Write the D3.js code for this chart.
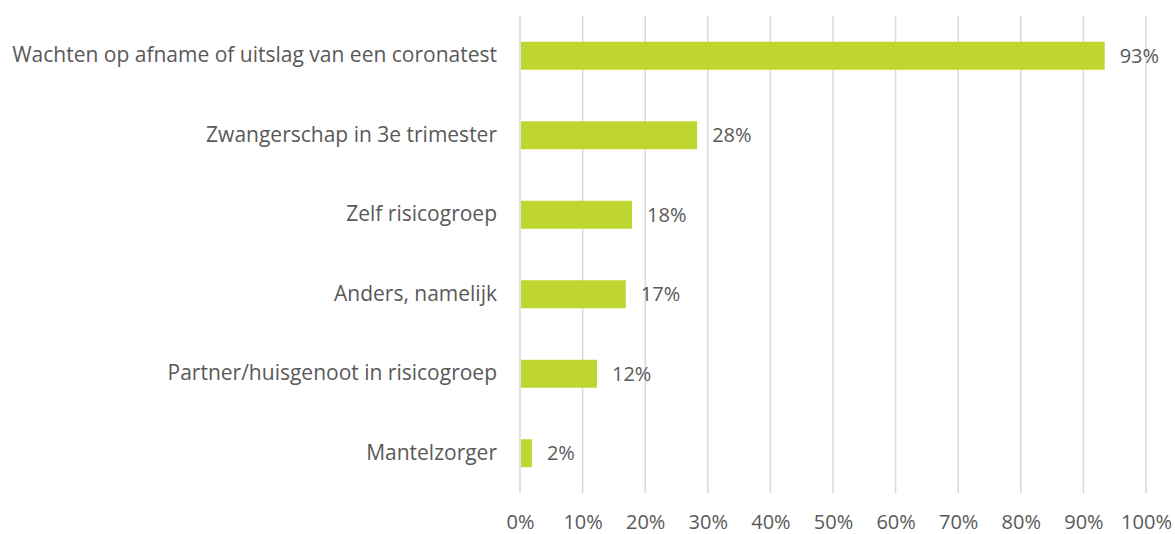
<!DOCTYPE html>
<html>
<head>
<meta charset="utf-8">
<script src="https://cdn.jsdelivr.net/npm/d3@7"></script>
<style>
  body { margin: 0; background: #fff; }
  text { font-family: "Open Sans", sans-serif; fill: #595959; }
</style>
</head>
<body>
<div id="chart"></div>
<script>
// categories, top to bottom
var categories = [
  "Wachten op afname of uitslag van een coronatest",
  "Zwangerschap in 3e trimester",
  "Zelf risicogroep",
  "Anders, namelijk",
  "Partner/huisgenoot in risicogroep",
  "Mantelzorger"
];
// percentages
var values = [93.4, 28.3, 17.9, 16.9, 12.3, 1.9];
var ticks = [0, 10, 20, 30, 40, 50, 60, 70, 80, 90, 100];

var W = 1175, H = 534;
var margin = {top: 16, right: 29, bottom: 41, left: 520};
var width = W - margin.left - margin.right,
    height = H - margin.top - margin.bottom;

var svg = d3.select("#chart").append("svg")
    .attr("width", W).attr("height", H)
  .append("g")
    .attr("transform", "translate(" + margin.left + "," + margin.top + ")");

var x = d3.scaleLinear().domain([0, 100]).range([0, width]);
var y = d3.scaleBand().domain(categories).range([0, height]).paddingInner(0.648).paddingOuter(0.324);

// vertical gridlines
svg.append("g").selectAll("line")
  .data(ticks).enter().append("line")
    .attr("x1", function (d) { return x(d); })
    .attr("x2", function (d) { return x(d); })
    .attr("y1", 0).attr("y2", height)
    .attr("stroke", "#d9d9d9")
    .attr("stroke-width", 1.5);

// x axis labels
var xAxis = svg.append("g")
    .attr("transform", "translate(0," + height + ")")
    .call(d3.axisBottom(x).tickValues(ticks).tickSize(0).tickPadding(22)
      .tickFormat(function (d) { return d + "%"; }));
xAxis.select(".domain").remove();
xAxis.selectAll("text").style("font-size", "20px").attr("fill", "#595959");

// y axis labels
var yAxis = svg.append("g")
    .call(d3.axisLeft(y).tickSize(0).tickPadding(23));
yAxis.select(".domain").remove();
yAxis.selectAll("text").style("font-size", "21px").attr("fill", "#595959");

// bars
svg.append("g").selectAll("rect")
  .data(values).enter().append("rect")
    .attr("x", x(0) + 1)
    .attr("y", function (d, i) { return y(categories[i]); })
    .attr("width", function (d) { return x(d) - x(0) - 1; })
    .attr("height", y.bandwidth())
    .attr("fill", "#bfd630");

// value labels
svg.append("g").selectAll("text")
  .data(values).enter().append("text")
    .attr("x", function (d) { return x(d) + 15; })
    .attr("y", function (d, i) { return y(categories[i]) + y.bandwidth() / 2; })
    .attr("dy", "0.35em")
    .style("font-size", "20px")
    .text(function (d) { return Math.round(d) + "%"; });
</script>
</body>
</html>
